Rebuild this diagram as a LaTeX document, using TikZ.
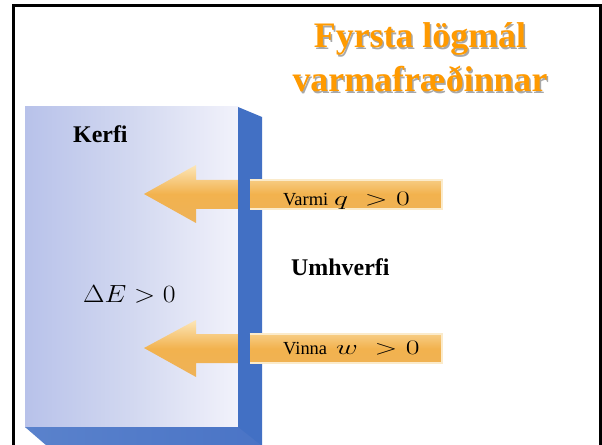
\documentclass[tikz,border=0pt]{standalone}
\usepackage{fontspec}
\setmainfont{Liberation Serif}
\definecolor{titleorange}{HTML}{FF9A00}
\definecolor{titleshadow}{HTML}{A8A8A8}
\definecolor{faceL}{HTML}{B8C2EA}
\definecolor{faceM}{HTML}{D2D8F0}
\definecolor{faceR}{HTML}{F2F2FB}
\definecolor{sideblue}{HTML}{4270C4}
\definecolor{bottomL}{HTML}{5A82CC}
\definecolor{bottomR}{HTML}{4A74C6}
\definecolor{arrowtop}{HTML}{FCE6B8}
\definecolor{arrowmid}{HTML}{F2B24E}
\definecolor{arrowbot}{HTML}{EEB258}
\definecolor{arrowrim}{HTML}{FBEBCB}
\newcommand{\shadowed}[1]{\makebox[0pt][l]{\hspace{1.5bp}\raisebox{-1.5bp}{\textcolor{titleshadow}{#1}}}#1}
\tikzset{
  frameline/.style={line width=3bp, black},
  arrowbody/.style={top color=arrowtop, bottom color=arrowbot, middle color=arrowmid},
  rim/.style={draw=arrowrim, line width=1.5bp},
  boldlabel/.style={font=\fontsize{24}{24}\bfseries\selectfont, anchor=base west, inner sep=0},
  arrowlabel/.style={font=\fontsize{18.5}{18.5}\selectfont, anchor=base west, inner sep=0},
  mathlabel/.style={font=\fontsize{21}{21}\selectfont, anchor=base west, inner sep=0},
  titletext/.style={font=\fontsize{36}{40}\bfseries\selectfont, text=titleorange, anchor=base, inner sep=0},
}
\begin{document}
\begin{tikzpicture}[x=1bp, y=-1bp]
\useasboundingbox (0,0) rectangle (602,445);
\fill[white] (0,0) rectangle (602,445);

% slide frame (open at the bottom)
\draw[frameline] (13.5,446) -- (13.5,6) -- (600,6) -- (600,446);

% title with drop shadow
\node[titletext] (title1) at (420,48) {\shadowed{Fyrsta lögmál}};
\node[titletext] (title2) at (420,92) {\shadowed{varmafræðinnar}};

% the system: a slab seen from the front
\shade[left color=faceL, right color=faceR, middle color=faceM] (25,107) rectangle (238,427);
\fill[sideblue] (238,107) -- (262,117) -- (262,446) -- (238,446) -- cycle;
\shade[left color=bottomL, right color=bottomR] (25,427) -- (238,427) -- (262,446) -- (47,446) -- cycle;

% heat arrow
\shade[arrowbody] (144,194) -- (196,165) -- (196,180) -- (442,180) -- (442,209) -- (196,209) -- (196,223) -- cycle;
\fill[sideblue] (238,176) rectangle (249.5,213);
\draw[rim] (249.5,180) -- (442,180) -- (442,209) -- (249.5,209);

% work arrow
\shade[arrowbody] (144,348) -- (196,320) -- (196,334) -- (442,334) -- (442,363) -- (196,363) -- (196,377) -- cycle;
\fill[sideblue] (238,330) rectangle (249.5,367);
\draw[rim] (249.5,334) -- (442,334) -- (442,363) -- (249.5,363);

% labels
\node[boldlabel] (kerfi) at (73,143) {Kerfi};
\node[boldlabel] (umhverfi) at (291,276) {Umhverfi};
\node[mathlabel, font=\fontsize{25}{25}\selectfont] (dE) at (83,302) {\scalebox{1.12}[1]{$\Delta E > 0$}};

\node[arrowlabel] (varmi) at (283,206) {Varmi};
\node[mathlabel] (qpos) at (334,206) {\scalebox{1.45}[1]{$q\;> 0$}};
\node[arrowlabel] (vinna) at (283,354) {Vinna};
\node[mathlabel] (wpos) at (336,354) {\scalebox{1.45}[1]{$w\;> 0$}};
\end{tikzpicture}
\end{document}
